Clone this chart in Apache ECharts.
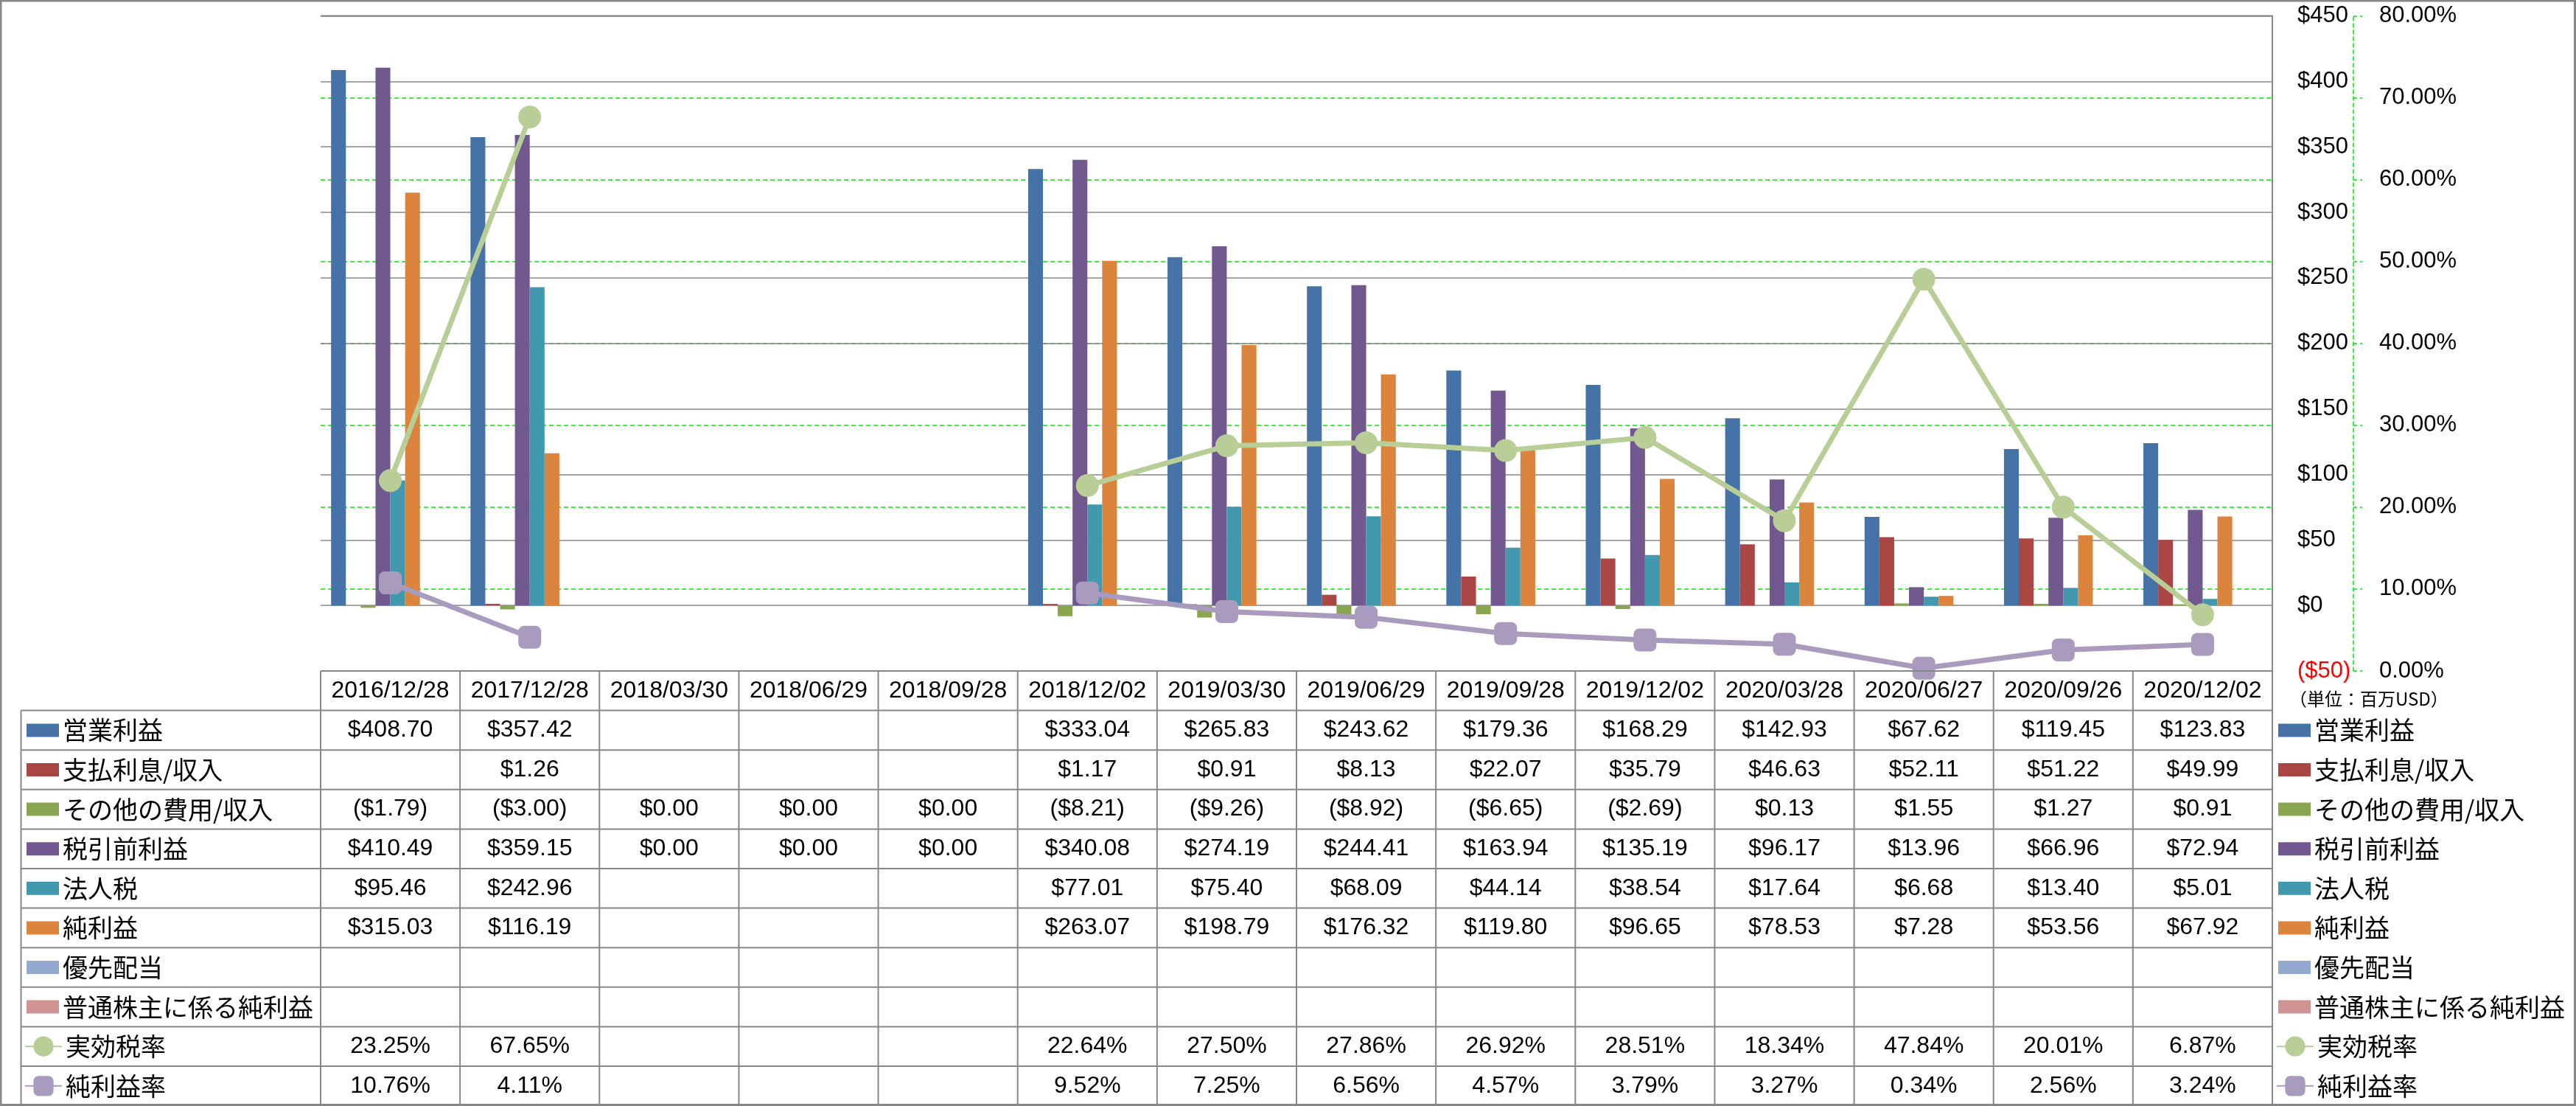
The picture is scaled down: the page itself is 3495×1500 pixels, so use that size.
<!DOCTYPE html>
<html><head><meta charset="utf-8">
<script src="https://cdn.jsdelivr.net/npm/echarts@6/dist/echarts.min.js"></script>
<style>html,body{margin:0;padding:0;background:#fff;overflow:hidden}#c{width:3495px;height:1500px}</style>
</head><body><div id="c"></div>
<script>
// ---- data ----
const categories = ['2016/12/28','2017/12/28','2018/03/30','2018/06/29','2018/09/28','2018/12/02','2019/03/30','2019/06/29','2019/09/28','2019/12/02','2020/03/28','2020/06/27','2020/09/26','2020/12/02'];
const opIncome   = [408.70, 357.42, null, null, null, 333.04, 265.83, 243.62, 179.36, 168.29, 142.93, 67.62, 119.45, 123.83];
const interest   = [null, 1.26, null, null, null, 1.17, 0.91, 8.13, 22.07, 35.79, 46.63, 52.11, 51.22, 49.99];
const otherExp   = [-1.79, -3.00, 0.00, 0.00, 0.00, -8.21, -9.26, -8.92, -6.65, -2.69, 0.13, 1.55, 1.27, 0.91];
const pretax     = [410.49, 359.15, 0.00, 0.00, 0.00, 340.08, 274.19, 244.41, 163.94, 135.19, 96.17, 13.96, 66.96, 72.94];
const incomeTax  = [95.46, 242.96, null, null, null, 77.01, 75.40, 68.09, 44.14, 38.54, 17.64, 6.68, 13.40, 5.01];
const netIncome  = [315.03, 116.19, null, null, null, 263.07, 198.79, 176.32, 119.80, 96.65, 78.53, 7.28, 53.56, 67.92];
const prefDiv    = [null, null, null, null, null, null, null, null, null, null, null, null, null, null];
const commonNet  = [null, null, null, null, null, null, null, null, null, null, null, null, null, null];
const effTaxRate = [23.25, 67.65, null, null, null, 22.64, 27.50, 27.86, 26.92, 28.51, 18.34, 47.84, 20.01, 6.87];
const netMargin  = [10.76, 4.11, null, null, null, 9.52, 7.25, 6.56, 4.57, 3.79, 3.27, 0.34, 2.56, 3.24];

const barNames  = ['営業利益','支払利息/収入','その他の費用/収入','税引前利益','法人税','純利益','優先配当','普通株主に係る純利益'];
const barData   = [opIncome, interest, otherExp, pretax, incomeTax, netIncome, prefDiv, commonNet];
const barColors = ['#4572A7','#AA4643','#89A54E','#71588F','#4198AF','#DB843D','#93A9CF','#D19392'];
const lineNames = ['実効税率','純利益率'];
const lineData  = [effTaxRate, netMargin];
const lineColors= ['#B9CD96','#A99BBD'];
const lineSymbols = ['circle','roundRect'];

const dollarTicks = {min: -50, max: 450, interval: 50};
const pctTicks = {min: 0, max: 80, interval: 10};
const unitLabel = '（単位：百万USD）';

// ---- layout constants ----
const W = 3495, H = 1500;
const PL = 435, PR = 3083, PT = 21.5, PB = 910;
const ROW = 53.6;
const GRAY = '#878787';
const GREEN = '#00E600';
const jp = '"Noto Sans CJK JP", "Noto Sans", sans-serif';
const lat = '"Liberation Sans", Arial, sans-serif';

const fmtMoney = v => v == null ? '' : (v < 0 ? '($' + Math.abs(v).toFixed(2) + ')' : '$' + v.toFixed(2));
const fmtPct = v => v == null ? '' : v.toFixed(2) + '%';

const chart = echarts.init(document.getElementById('c'), null, {renderer: 'canvas'});

const series = [];
barNames.forEach((n, i) => series.push({
  name: n, type: 'bar', yAxisIndex: 0, data: barData[i],
  itemStyle: {color: barColors[i]}, barGap: '0%', barCategoryGap: '15%'
}));
lineNames.forEach((n, i) => series.push({
  name: n, type: 'line', yAxisIndex: 1, data: lineData[i], z: 5,
  symbol: lineSymbols[i], symbolSize: 31, connectNulls: false,
  lineStyle: {color: lineColors[i], width: 7},
  itemStyle: {color: lineColors[i]}
}));

const legendCommon = {
  orient: 'vertical', itemGap: 0, padding: 0, selectedMode: true,
  textStyle: {fontFamily: jp, fontSize: 34, color: '#000', lineHeight: ROW}
};
const legends = [
  Object.assign({}, legendCommon, {left: 36, top: PB + ROW, itemWidth: 44, itemHeight: 18, data: barNames.map(n => ({name: n, icon: 'rect'}))}),
  Object.assign({}, legendCommon, {left: 33, top: PB + ROW * 9, itemWidth: 50, itemHeight: 34, data: lineNames}),
  Object.assign({}, legendCommon, {left: 3091, top: PB + ROW, itemWidth: 44, itemHeight: 18, data: barNames.map(n => ({name: n, icon: 'rect'}))}),
  Object.assign({}, legendCommon, {left: 3088, top: PB + ROW * 9, itemWidth: 50, itemHeight: 34, data: lineNames})
];

chart.setOption({
  animation: false,
  backgroundColor: '#fff',
  title: {text: unitLabel, left: 3106, top: 936, padding: 0,
    textStyle: {fontSize: 24, fontWeight: 'normal', fontFamily: jp, color: '#000'}},
  grid: {left: PL, right: W - PR, top: PT, bottom: H - PB, containLabel: false, outerBoundsMode: 'none'},
  legend: legends,
  xAxis: {
    type: 'category', data: categories, boundaryGap: true,
    axisLine: {show: false}, axisTick: {show: false}, axisLabel: {show: false}, splitLine: {show: false}
  },
  yAxis: [
    {
      type: 'value', position: 'right', z: 1, min: dollarTicks.min, max: dollarTicks.max, interval: dollarTicks.interval,
      axisLine: {show: true, lineStyle: {color: GRAY, width: 2}},
      axisTick: {show: false},
      axisLabel: {
        margin: 34, align: 'left', fontFamily: lat, fontSize: 31, color: '#000',
        formatter: v => v < 0 ? '{neg|($' + Math.abs(v) + ')}' : '$' + v,
        rich: {neg: {color: '#FF0000', fontFamily: lat, fontSize: 31}}
      },
      splitLine: {show: true, lineStyle: {color: GRAY, width: 1.5}}
    },
    {
      type: 'value', position: 'right', z: 0, offset: 110, min: pctTicks.min, max: pctTicks.max, interval: pctTicks.interval,
      axisLine: {show: true, lineStyle: {color: GREEN, width: 1.5, type: [5, 4]}},
      axisTick: {show: true, inside: false, length: 12, lineStyle: {color: GREEN, width: 1.5, type: [5, 4]}},
      axisLabel: {margin: 35, align: 'left', fontFamily: lat, fontSize: 31, color: '#000', formatter: v => v.toFixed(2) + '%'},
      splitLine: {show: true, showMaxLine: false, showMinLine: false, lineStyle: {color: GREEN, width: 1.5, type: [6, 4]}}
    }
  ],
  series: series
});

// ---- data table drawn from the category scale ----
const centers = categories.map((c, i) => chart.convertToPixel({xAxisIndex: 0}, i));
const bw = centers[1] - centers[0];
const bounds = [centers[0] - bw / 2].concat(centers.map(c => c + bw / 2));
const labelLeft = 28.5;
const tableBottom = PB + ROW * 11;
const g = [];
const line = (x1, y1, x2, y2) => g.push({type: 'line', silent: true, z: 10,
  shape: {x1, y1, x2, y2}, style: {stroke: GRAY, lineWidth: 2}});
line(bounds[0], PB, bounds[bounds.length - 1], PB);
line(bounds[0], PT, bounds[bounds.length - 1], PT);
for (let k = 1; k <= 11; k++) line(labelLeft, PB + ROW * k, bounds[bounds.length - 1], PB + ROW * k);
bounds.forEach(x => line(x, PB, x, tableBottom));
line(labelLeft, PB + ROW, labelLeft, tableBottom);
const txt = (x, y, s) => g.push({type: 'text', silent: true, z: 11, x, y,
  style: {text: s, font: '32px ' + lat, fill: '#000', align: 'center', verticalAlign: 'middle', textAlign: 'center', textVerticalAlign: 'middle'}});
categories.forEach((c, i) => txt(centers[i], PB + ROW / 2, c));
barData.forEach((arr, r) => arr.forEach((v, i) => txt(centers[i], PB + ROW * (r + 1.5), fmtMoney(v))));
lineData.forEach((arr, r) => arr.forEach((v, i) => txt(centers[i], PB + ROW * (r + 9.5), fmtPct(v))));
// outer frame
g.push({type: 'rect', silent: true, z: 20, shape: {x: 1, y: 1, width: W - 2.5, height: H - 2.5},
  style: {fill: null, stroke: GRAY, lineWidth: 3}});
chart.setOption({graphic: {elements: g}});
</script>
</body></html>
